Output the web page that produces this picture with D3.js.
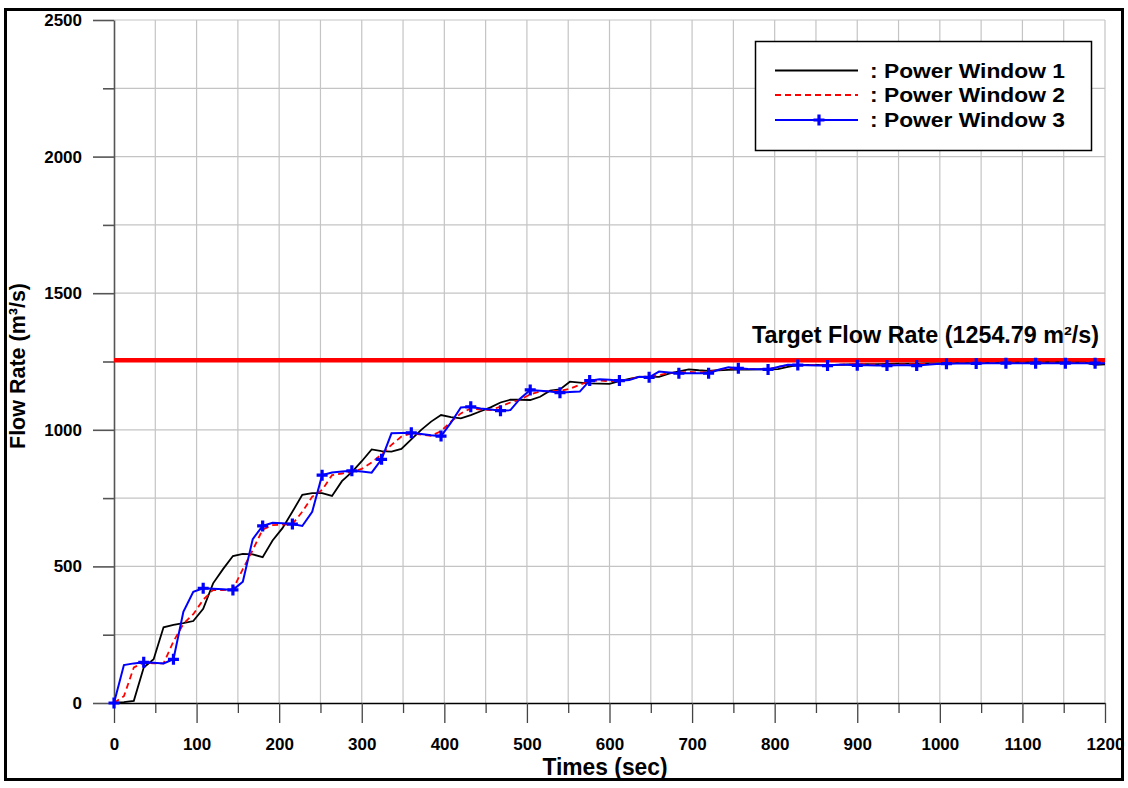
<!DOCTYPE html>
<html>
<head>
<meta charset="utf-8">
<script src="https://cdn.jsdelivr.net/npm/d3@7"></script>
<style>
  body { margin: 0; background: #fff; }
  text { font-family: Arial, "Liberation Sans", sans-serif; font-weight: bold; }
</style>
</head>
<body>
<svg id="chart"></svg>
<script>
// sample times (sec), one every 12 s
const times = d3.range(0, 1201, 12);

const window1 = [
  0, 3, 8, 130, 160, 277, 286, 292, 300, 345,
  438, 490, 538, 546, 544, 534, 595, 640, 700, 762,
  768, 768, 758, 812, 845, 885, 928, 922, 920, 930,
  965, 1000, 1030, 1054, 1046, 1042, 1054, 1068, 1082, 1100,
  1110, 1110, 1109, 1121, 1143, 1148, 1176, 1173, 1170, 1169,
  1168, 1178, 1186, 1194, 1194, 1194, 1206, 1214, 1221, 1218,
  1216, 1218, 1219, 1220, 1220, 1221, 1221, 1222, 1230, 1237,
  1238, 1238, 1238, 1238, 1239, 1240, 1240, 1240, 1241, 1242,
  1242, 1242, 1243, 1243, 1243, 1244, 1244, 1244, 1245, 1245,
  1246, 1246, 1246, 1247, 1247, 1247, 1247, 1246, 1246, 1238,
  1240
];

const window2 = [
  0, 25, 130, 148, 145, 145, 225, 290, 325, 378,
  414, 413, 416, 490, 560, 635, 651, 653, 655, 700,
  755, 780, 834, 840, 846, 857, 880, 910, 945, 975,
  987, 982, 978, 995, 1030, 1060, 1078, 1074, 1072, 1085,
  1100, 1110, 1130, 1140, 1142, 1142, 1150, 1165, 1178, 1180,
  1178, 1178, 1185, 1193, 1195, 1200, 1208, 1210, 1212, 1210,
  1212, 1220, 1225, 1223, 1222, 1222, 1222, 1230, 1236, 1238,
  1238, 1237, 1236, 1238, 1240, 1240, 1240, 1239, 1238, 1239,
  1240, 1240, 1242, 1243, 1244, 1244, 1244, 1245, 1246, 1246,
  1247, 1247, 1247, 1247, 1247, 1247, 1247, 1246, 1246, 1243,
  1244
];

const window3 = [
  0, 139, 145, 149, 147, 145, 160, 334, 407, 420,
  418, 416, 414, 444, 600, 648, 660, 658, 655, 648,
  700, 834, 844, 847, 850, 847, 843, 892, 987, 988,
  989, 985, 980, 977, 1026, 1082, 1084, 1078, 1074, 1070,
  1072, 1115, 1146, 1143, 1140, 1136, 1138, 1140, 1180, 1185,
  1183, 1180, 1182, 1194, 1192, 1213, 1210, 1207, 1207, 1207,
  1207, 1220, 1229, 1225, 1223, 1222, 1221, 1230, 1238, 1237,
  1236, 1235, 1235, 1238, 1238, 1236, 1236, 1235, 1235, 1236,
  1236, 1235, 1238, 1241, 1242, 1243, 1243, 1243, 1244, 1244,
  1244, 1244, 1244, 1244, 1244, 1244, 1244, 1244, 1244, 1244,
  1244
];

const targetRate = 1254.79;
const xMajorTicks = [0, 100, 200, 300, 400, 500, 600, 700, 800, 900, 1000, 1100, 1200];
const yMajorTicks = [0, 500, 1000, 1500, 2000, 2500];
const legendNames = [": Power Window 1", ": Power Window 2", ": Power Window 3"];

const width = 1128;
const height = 788;
const svg = d3.select("#chart").attr("width", width).attr("height", height);

const x = d3.scaleLinear().domain([0, 1200]).range([114, 1105]);
const y = d3.scaleLinear().domain([0, 2500]).range([703, 20]);

// outer frame
svg.append("rect")
  .attr("x", 5.5).attr("y", 9.5)
  .attr("width", 1117).attr("height", 770)
  .attr("fill", "none").attr("stroke", "#000").attr("stroke-width", 3);

// grid
const grid = svg.append("g").attr("stroke", "#c4c4c4").attr("stroke-width", 1.2);
grid.selectAll(".vg")
  .data(d3.range(50, 1201, 50))
  .enter().append("line")
  .attr("x1", (d) => x(d)).attr("x2", (d) => x(d))
  .attr("y1", y(2500)).attr("y2", y(0));
grid.selectAll(".hg")
  .data(d3.range(250, 2501, 250))
  .enter().append("line")
  .attr("x1", x(0)).attr("x2", x(1200))
  .attr("y1", (d) => y(d)).attr("y2", (d) => y(d));

// y axis
const yMinor = svg.append("g")
  .attr("transform", `translate(${x(0)},0)`)
  .call(d3.axisLeft(y).tickValues(d3.range(250, 2500, 500)).tickSize(11).tickFormat(""));
yMinor.select(".domain").remove();
yMinor.selectAll("line").attr("stroke", "#555").attr("stroke-width", 1.6);
const yAxis = svg.append("g")
  .attr("transform", `translate(${x(0)},0)`)
  .call(d3.axisLeft(y).tickValues(yMajorTicks).tickSize(21).tickSizeOuter(0)
    .tickPadding(11).tickFormat(d3.format("d")));
yAxis.selectAll("line, path").attr("stroke", "#555").attr("stroke-width", 1.6);
yAxis.selectAll("text").attr("font-size", 17).attr("fill", "#000");

// x axis
const xMinor = svg.append("g")
  .attr("transform", `translate(0,${y(0)})`)
  .call(d3.axisBottom(x).tickValues(d3.range(50, 1200, 100)).tickSize(10).tickFormat(""));
xMinor.select(".domain").remove();
xMinor.selectAll("line").attr("stroke", "#444").attr("stroke-width", 1.3);
const xAxis = svg.append("g")
  .attr("transform", `translate(0,${y(0)})`)
  .call(d3.axisBottom(x).tickValues(xMajorTicks).tickSize(20).tickSizeOuter(0)
    .tickPadding(15).tickFormat(d3.format("d")));
xAxis.selectAll("line").attr("stroke", "#444").attr("stroke-width", 1.3);
xAxis.select(".domain").attr("stroke", "#000").attr("stroke-width", 1.5);
xAxis.selectAll("text").attr("font-size", 17).attr("fill", "#000");

// target line
svg.append("line")
  .attr("x1", x(0)).attr("x2", x(1200))
  .attr("y1", y(targetRate)).attr("y2", y(targetRate))
  .attr("stroke", "#ff0000").attr("stroke-width", 4.5);
svg.append("text")
  .attr("x", 752).attr("y", 343)
  .attr("font-size", 23)
  .attr("textLength", 347).attr("lengthAdjust", "spacingAndGlyphs")
  .text("Target Flow Rate (1254.79 m²/s)");

// series
const line = (vals) => d3.line()
  .x((d, i) => x(times[i]))
  .y((d) => y(d))(vals);

svg.append("path").attr("d", line(window1))
  .attr("fill", "none").attr("stroke", "#000").attr("stroke-width", 1.8);
svg.append("path").attr("d", line(window2))
  .attr("fill", "none").attr("stroke", "#ff0000").attr("stroke-width", 1.8)
  .attr("stroke-dasharray", "6,4");
svg.append("path").attr("d", line(window3))
  .attr("fill", "none").attr("stroke", "#0000ff").attr("stroke-width", 2);

const plus = (g, cx, cy) => {
  g.append("path")
    .attr("d", `M${cx - 5.5},${cy}H${cx + 5.5}M${cx},${cy - 5.5}V${cy + 5.5}`)
    .attr("stroke", "#0000ff").attr("stroke-width", 3.2).attr("fill", "none");
};
const markers = svg.append("g");
window3.forEach((v, i) => {
  if (i % 3 === 0 && times[i] < 1200) plus(markers, x(times[i]), y(v));
});

// legend
const legend = svg.append("g");
legend.append("rect")
  .attr("x", 755.5).attr("y", 41.5).attr("width", 336).attr("height", 109)
  .attr("fill", "#fff").attr("stroke", "#000").attr("stroke-width", 1.5);
const rowsY = [70.5, 95, 120];
const styles = [
  { color: "#000", dash: null, w: 1.8 },
  { color: "#ff0000", dash: "6,4", w: 1.8 },
  { color: "#0000ff", dash: null, w: 2 },
];
legendNames.forEach((name, i) => {
  legend.append("line")
    .attr("x1", 775).attr("x2", 858)
    .attr("y1", rowsY[i]).attr("y2", rowsY[i])
    .attr("stroke", styles[i].color).attr("stroke-width", styles[i].w)
    .attr("stroke-dasharray", styles[i].dash);
  legend.append("text")
    .attr("x", 870).attr("y", rowsY[i] + 7)
    .attr("font-size", 20)
    .attr("textLength", 195).attr("lengthAdjust", "spacingAndGlyphs")
    .text(name);
});
plus(legend, 819, rowsY[2]);

// axis titles
svg.append("text")
  .attr("x", 605).attr("y", 775)
  .attr("text-anchor", "middle")
  .attr("font-size", 23)
  .attr("textLength", 125).attr("lengthAdjust", "spacingAndGlyphs")
  .text("Times (sec)");
svg.append("text")
  .attr("transform", "translate(25,366) rotate(-90)")
  .attr("text-anchor", "middle")
  .attr("font-size", 22)
  .attr("textLength", 166).attr("lengthAdjust", "spacingAndGlyphs")
  .text("Flow Rate (m³/s)");
</script>
</body>
</html>
